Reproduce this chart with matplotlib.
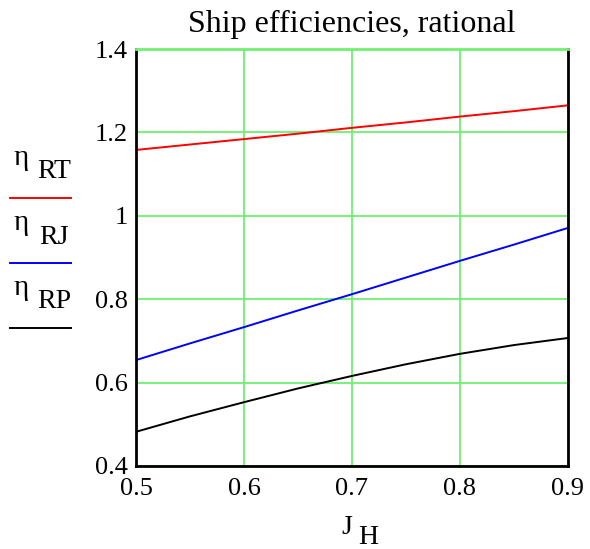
import matplotlib
matplotlib.use('Agg')
import matplotlib.pyplot as plt
from matplotlib.lines import Line2D

plt.rcParams['font.family'] = ['Liberation Serif', 'DejaVu Serif']

# data
J_H = [0.5, 0.55, 0.6, 0.65, 0.7, 0.75, 0.8, 0.85, 0.9]
eta_RT = [1.158, 1.171, 1.184, 1.197, 1.211, 1.224, 1.238, 1.251, 1.265]
eta_RJ = [0.654, 0.694, 0.733, 0.773, 0.812, 0.852, 0.892, 0.931, 0.971]
eta_RP = [0.482, 0.519, 0.553, 0.586, 0.616, 0.644, 0.669, 0.690, 0.707]

xticks = [0.5, 0.6, 0.7, 0.8, 0.9]
yticks = [0.4, 0.6, 0.8, 1.0, 1.2, 1.4]
ytick_labels = ['0.4', '0.6', '0.8', '1', '1.2', '1.4']

fig = plt.figure(figsize=(5.9, 5.49), dpi=100)
ax = fig.add_axes([0.2305, 0.1512, 0.7322, 0.7595])

ax.plot(J_H, eta_RT, color='red', lw=1.4)
ax.plot(J_H, eta_RJ, color='blue', lw=1.4)
ax.plot(J_H, eta_RP, color='black', lw=1.4)

ax.set_xlim(0.5, 0.9)
ax.set_ylim(0.4, 1.4)
ax.set_xticks(xticks)
ax.set_yticks(yticks)
ax.set_yticklabels(ytick_labels)
ax.grid(True, color='#70f070', lw=1.3)
ax.set_axisbelow(True)
ax.tick_params(length=0, labelsize=19)
ax.tick_params(axis='y', pad=6)
ax.tick_params(axis='x', pad=9)
for s in ax.spines.values():
    s.set_linewidth(2)
ax.spines['top'].set_color('#70f070')

ax.set_title('Ship efficiencies, rational', fontsize=23, pad=12)

# x label J_H
fig.text(347/590, 1 - 528/549, 'J', fontsize=20, ha='center', va='center')
fig.text(368/590, 1 - 538/549, 'H', fontsize=20, ha='center', va='center')

# legend on the left
legend = [('RT', 'red', 160), ('RJ', 'blue', 225), ('RP', 'black', 290)]
for sub, col, yp in legend:
    fig.text(21/590, 1 - (yp - 2)/549, 'η', fontsize=21, ha='center', va='center')
    fig.text(54/590, 1 - (yp + 12)/549, sub, fontsize=20, ha='center', va='center')
    yl = 1 - (yp + 38)/549
    fig.add_artist(Line2D([10/590, 71/590], [yl, yl], color=col, lw=1.4))

fig.savefig('out.png', dpi=100)
